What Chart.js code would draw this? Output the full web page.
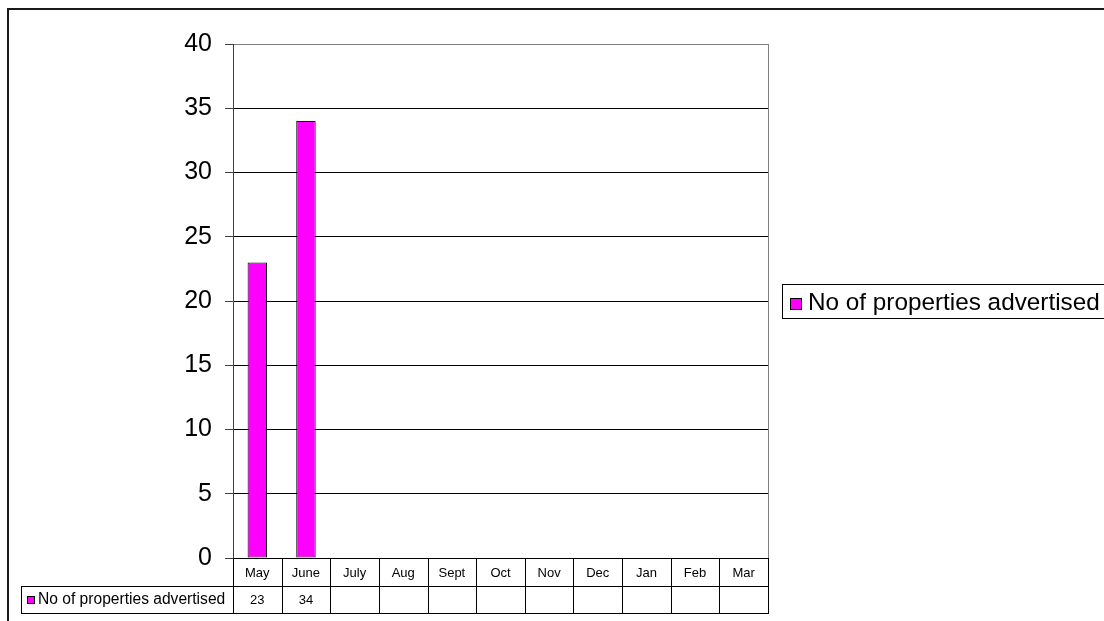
<!DOCTYPE html>
<html lang="en">
<head>
  <meta charset="UTF-8">
  <title>No of properties advertised</title>
  <script src="https://cdn.jsdelivr.net/npm/chart.js"></script>
  <style>
    body { margin: 0; background: #fff; }
    #wrap { width: 1104px; height: 621px; }
  </style>
</head>
<body>
  <div id="wrap"><canvas id="chart" width="1104" height="621"></canvas></div>
  <script>
    // datos del grafico
    const months = ['May', 'June', 'July', 'Aug', 'Sept', 'Oct', 'Nov', 'Dec', 'Jan', 'Feb', 'Mar'];
    const advertised = [23, 34, null, null, null, null, null, null, null, null, null];
    const yTicks = [0, 5, 10, 15, 20, 25, 30, 35, 40];
    const seriesName = 'No of properties advertised';
    const barColor = '#FF00FF';

    // tabla de datos debajo del grafico + leyenda con recuadro + marco exterior
    const tablePlugin = {
      id: 'dataTable',
      afterDraw(chart) {
        const ctx = chart.ctx;
        const x = chart.scales.x;
        const a = chart.chartArea;
        const row1 = a.bottom, row2 = a.bottom + 28, row3 = a.bottom + 55;
        const half = (x.getPixelForValue(1) - x.getPixelForValue(0)) / 2;

        ctx.save();
        // marco exterior
        ctx.strokeStyle = '#1a1a1a';
        ctx.lineWidth = 2;
        ctx.strokeRect(8, 9, 1200, 1200);

        // borde derecho del area de trazado
        ctx.strokeStyle = '#808080';
        ctx.lineWidth = 1;
        ctx.beginPath();
        ctx.moveTo(Math.round(a.right) + 0.5, a.top);
        ctx.lineTo(Math.round(a.right) + 0.5, a.bottom);
        ctx.stroke();

        // lineas de la tabla
        ctx.strokeStyle = '#000';
        ctx.beginPath();
        ctx.moveTo(a.left, row1 + 0.5); ctx.lineTo(a.right + 1, row1 + 0.5);
        ctx.moveTo(21, row2 + 0.5); ctx.lineTo(a.right + 1, row2 + 0.5);
        ctx.moveTo(21, row3 + 0.5); ctx.lineTo(a.right + 1, row3 + 0.5);
        ctx.moveTo(21.5, row2); ctx.lineTo(21.5, row3);
        months.forEach((m, i) => {
          const xl = Math.round(x.getPixelForValue(i) - half) + 0.5;
          ctx.moveTo(xl, row1); ctx.lineTo(xl, row3);
        });
        ctx.moveTo(Math.round(a.right) + 0.5, row1); ctx.lineTo(Math.round(a.right) + 0.5, row3);
        ctx.stroke();

        // textos de la tabla
        ctx.fillStyle = '#000';
        ctx.font = '13px Arial, "Liberation Sans", sans-serif';
        ctx.textAlign = 'center';
        ctx.textBaseline = 'middle';
        months.forEach((m, i) => {
          const cx = x.getPixelForValue(i);
          ctx.fillText(m, cx, row1 + 15);
          if (advertised[i] !== null) ctx.fillText(String(advertised[i]), cx, row2 + 14);
        });

        // cabecera de la serie
        ctx.fillStyle = barColor;
        ctx.fillRect(27, row2 + 10, 8, 8);
        ctx.strokeRect(27.5, row2 + 10.5, 7, 7);
        ctx.fillStyle = '#000';
        ctx.textAlign = 'left';
        ctx.font = '15.6px Arial, "Liberation Sans", sans-serif';
        ctx.fillText(chart.data.datasets[0].label, 38, row2 + 14);

        // leyenda a la derecha
        ctx.strokeRect(782.5, 284.5, 400, 34);
        ctx.fillStyle = barColor;
        ctx.fillRect(790, 298, 12, 12);
        ctx.strokeRect(790.5, 298.5, 11, 11);
        ctx.fillStyle = '#000';
        ctx.font = '24.3px Arial, "Liberation Sans", sans-serif';
        ctx.fillText(chart.data.datasets[0].label, 808, 303);
        ctx.restore();
      }
    };

    new Chart(document.getElementById('chart'), {
      type: 'bar',
      data: {
        labels: months,
        datasets: [{
          label: seriesName,
          data: advertised,
          backgroundColor: barColor,
          borderColor: '#000',
          borderWidth: 1,
          borderSkipped: false,
          barPercentage: 0.4,
          categoryPercentage: 1.0
        }]
      },
      options: {
        responsive: false,
        animation: false,
        devicePixelRatio: 1,
        layout: { padding: { left: 0, top: 44, right: 336, bottom: 63 } },
        plugins: {
          legend: { display: false },
          tooltip: { enabled: false }
        },
        scales: {
          x: { display: false },
          y: {
            min: 0,
            max: 40,
            afterFit: (scale) => { scale.width = 233; },
            afterBuildTicks: (scale) => { scale.ticks = yTicks.map(v => ({ value: v })); },
            ticks: {
              color: '#000',
              padding: 13,
              font: { family: 'Arial, "Liberation Sans", sans-serif', size: 25 }
            },
            grid: {
              color: (c) => c.tick && c.tick.value === 40 ? '#808080' : '#000',
              tickColor: '#404040',
              tickLength: 8,
              lineWidth: 1
            },
            border: { color: '#404040', width: 1 }
          }
        }
      },
      plugins: [tablePlugin]
    });
  </script>
</body>
</html>
